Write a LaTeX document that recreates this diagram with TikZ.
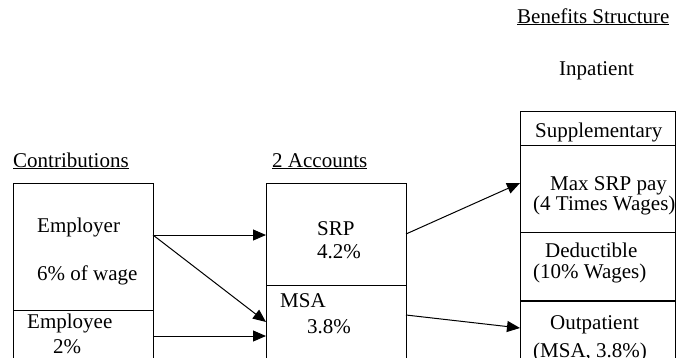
\documentclass[tikz,border=0pt]{standalone}
\usepackage{fontspec}
\setmainfont{Liberation Serif}
\usetikzlibrary{arrows.meta,calc}
\begin{document}
\begin{tikzpicture}[x=1pt,y=-1pt,
  box/.style={draw,line width=1pt,anchor=north west,inner sep=0pt,outer sep=0pt},
  txt/.style={anchor=base west,inner sep=0pt,font=\fontsize{21}{25}\selectfont},
  arr/.style={line width=1pt,-{Triangle[length=13pt,width=11pt]}}]
\useasboundingbox (0,0) rectangle (676,357);
\clip (0,0) rectangle (676,357);
% headings
\node[txt] (hc) at (13,167) {\underline{Contributions}};
\node[txt] (ha) at (272,167) {\underline{2 Accounts}};
\node[txt] (hb) at (517,23) {\underline{Benefits Structure}};
\node[txt] (hi) at (559,75) {Inpatient};
% left boxes
\node[box,minimum width=140pt,minimum height=127pt] (emp) at (13,183) {};
\node[box,minimum width=140pt,minimum height=80pt] (empl) at (13,310) {};
\node[txt] (t1) at (37,232) {Employer};
\node[txt] (t2) at (37,280) {6\% of wage};
\node[txt] (t3) at (27,328) {Employee};
\node[txt] (t4) at (53,353) {2\%};
% middle boxes
\node[box,minimum width=140pt,minimum height=102pt] (srp) at (266,183) {};
\node[box,minimum width=140pt,minimum height=100pt] (msa) at (266,285) {};
\node[txt] (t5) at (317,235) {SRP};
\node[txt] (t6) at (317,258) {4.2\%};
\node[txt] (t7) at (280,307) {MSA};
\node[txt] (t8) at (307,333) {3.8\%};
% right boxes
\node[box,minimum width=155pt,minimum height=34pt] (sup) at (520,111) {};
\node[box,minimum width=155pt,minimum height=87pt] (maxp) at (520,145) {};
\node[box,minimum width=155pt,minimum height=68pt] (ded) at (520,232) {};
\node[box,minimum width=155pt,minimum height=90pt] (outp) at (520,300) {};
\draw[line width=1.2pt] ([yshift=-1.5pt]outp.north west) -- ([yshift=-1.5pt]outp.north east);
\node[txt] (t9) at (535,137) {Supplementary};
\node[txt] (t10) at (550,190) {Max SRP pay};
\node[txt] (t11) at (533,210) {(4 Times Wages)};
\node[txt] (t12) at (545,257) {Deductible};
\node[txt] (t13) at (533,278) {(10\% Wages)};
\node[txt] (t14) at (550,329) {Outpatient};
\node[txt] (t15) at (533,357) {(MSA, 3.8\%)};
% connectors
\coordinate (p1) at (153,235);
\coordinate (p2) at (266,322);
\coordinate (p3) at (153,336);
\coordinate (p4) at (406,234);
\coordinate (p5) at (520,183);
\coordinate (p6) at (406,315);
\coordinate (p7) at (520,328);
\draw[arr] (p1) -- (p1 -| srp.west);
\draw[arr] (p1) -- (p2);
\draw[arr] (p3) -- (p3 -| msa.west);
\draw[arr] (p4) -- (p5);
\draw[arr] (p6) -- (p7);
\end{tikzpicture}
\end{document}
